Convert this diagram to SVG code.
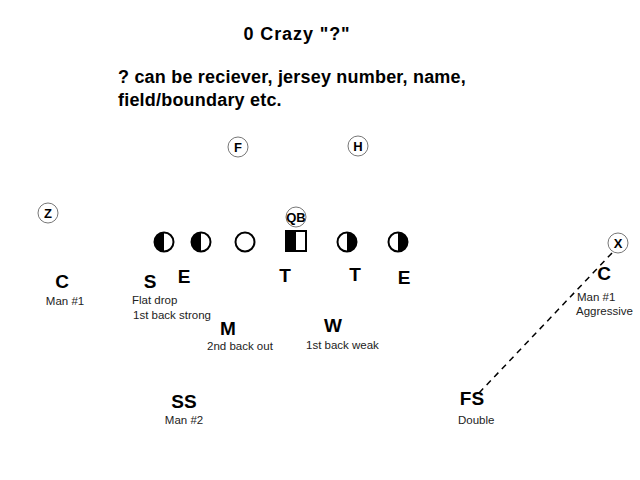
<svg xmlns="http://www.w3.org/2000/svg" width="640" height="480" viewBox="0 0 640 480">
<style>
.t{font-family:"Liberation Sans",Arial,sans-serif;font-weight:bold;font-size:18px;fill:#000}
.p{font-family:"Liberation Sans",Arial,sans-serif;font-weight:bold;font-size:19px;fill:#000;text-anchor:middle}
.s{font-family:"Liberation Sans",Arial,sans-serif;font-size:11.5px;fill:#222}
.c{font-family:"Liberation Sans",Arial,sans-serif;font-weight:bold;font-size:13px;fill:#000;text-anchor:middle}
.ring{fill:#fff;stroke:#777;stroke-width:1}
.ol{fill:#fff;stroke:#000;stroke-width:2}
</style>
<rect width="640" height="480" fill="#fff"/>
<text class="t" x="297" y="40" text-anchor="middle" letter-spacing="0.9">0 Crazy "?"</text>
<text class="t" x="118" y="83" letter-spacing="0.2">? can be reciever, jersey number, name,</text>
<text class="t" x="118" y="106" letter-spacing="0.2">field/boundary etc.</text>
<g id="connectors">
<line x1="612" y1="253" x2="479" y2="393" stroke="#000" stroke-width="1.5" stroke-dasharray="6,5"/>
</g>
<g id="F"><circle class="ring" cx="238" cy="147" r="10"/><text class="c" x="238" y="152">F</text></g>
<g id="H"><circle class="ring" cx="358" cy="146" r="10"/><text class="c" x="358" y="151">H</text></g>
<g id="Z"><circle class="ring" cx="48" cy="213" r="10"/><text class="c" x="48" y="218">Z</text></g>
<g id="X"><circle class="ring" cx="618" cy="243" r="10"/><text class="c" x="618" y="248">X</text></g>
<g id="QB"><circle class="ring" cx="296" cy="217" r="10"/><text class="c" x="296" y="222">QB</text></g>
<g id="OL1"><circle class="ol" cx="164" cy="242" r="9.5"/><path d="M164,232.5 A9.5,9.5 0 0 0 164,251.5 Z" fill="#000"/></g>
<g id="OL2"><circle class="ol" cx="201" cy="242" r="9.5"/><path d="M201,232.5 A9.5,9.5 0 0 0 201,251.5 Z" fill="#000"/></g>
<g id="OL3"><circle class="ol" cx="245" cy="242" r="9.5"/></g>
<g id="Center"><rect x="286" y="231" width="20" height="20" fill="#fff" stroke="#000" stroke-width="2"/><rect x="286" y="231" width="10" height="20" fill="#000"/></g>
<g id="OL4"><circle class="ol" cx="347" cy="242" r="9.5"/><path d="M347,232.5 A9.5,9.5 0 0 1 347,251.5 Z" fill="#000"/></g>
<g id="OL5"><circle class="ol" cx="398" cy="242" r="9.5"/><path d="M398,232.5 A9.5,9.5 0 0 1 398,251.5 Z" fill="#000"/></g>
<g id="CL"><text class="p" x="62" y="288">C</text><text class="s" x="65" y="305" text-anchor="middle">Man #1</text></g>
<g id="S"><text class="p" x="150" y="288">S</text><text class="s" x="132" y="304">Flat drop</text><text class="s" x="133" y="319">1st back strong</text></g>
<g id="E1"><text class="p" x="184" y="283">E</text></g>
<g id="T1"><text class="p" x="285" y="282">T</text></g>
<g id="T2"><text class="p" x="355" y="281">T</text></g>
<g id="E2"><text class="p" x="404" y="284">E</text></g>
<g id="CR"><text class="p" x="604" y="280">C</text><text class="s" x="577" y="301">Man #1</text><text class="s" x="576" y="315">Aggressive</text></g>
<g id="M"><text class="p" x="228" y="335">M</text><text class="s" x="207" y="350">2nd back out</text></g>
<g id="W"><text class="p" x="333" y="332">W</text><text class="s" x="306" y="349">1st back weak</text></g>
<g id="SS"><text class="p" x="184" y="408">SS</text><text class="s" x="184" y="424" text-anchor="middle">Man #2</text></g>
<g id="FS"><text class="p" x="472" y="405">FS</text><text class="s" x="458" y="424">Double</text></g>
</svg>
